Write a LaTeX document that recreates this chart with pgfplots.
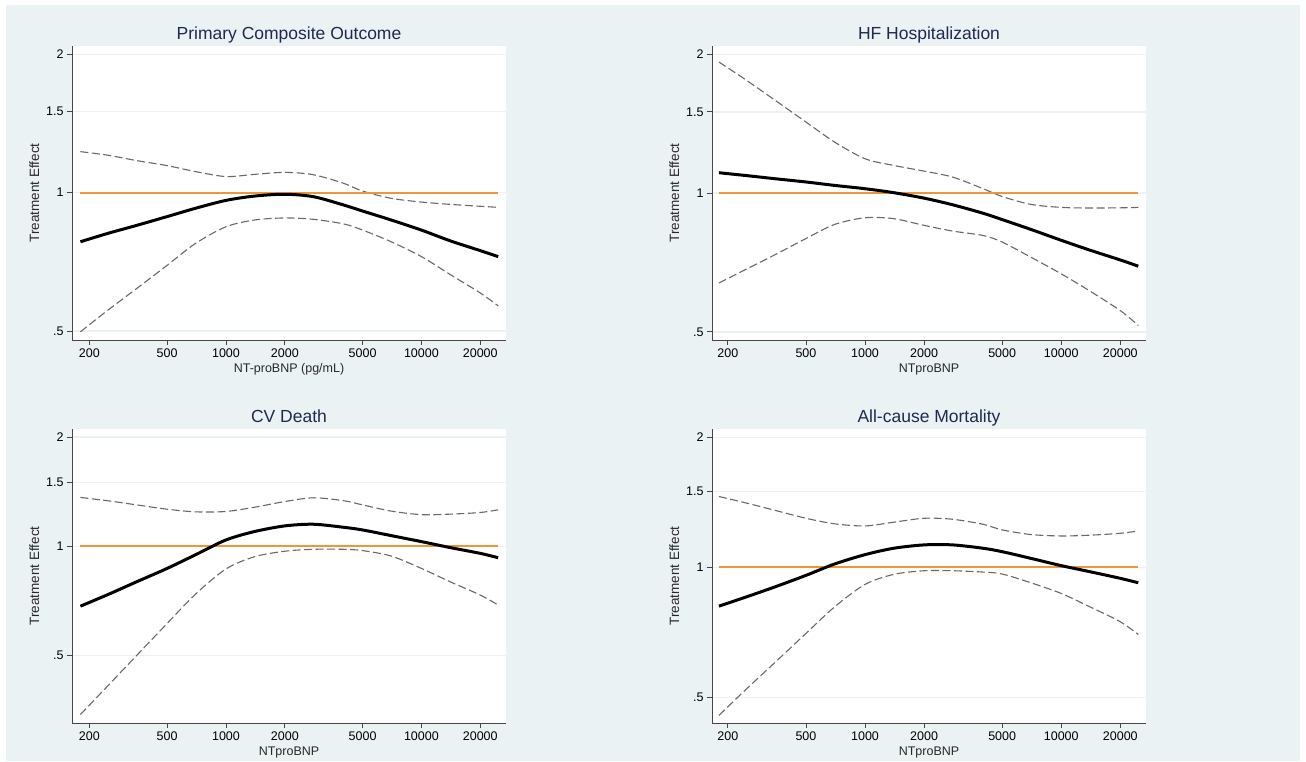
\documentclass[border=0pt]{standalone}
\usepackage{fontspec}
\setmainfont{Liberation Sans}
\usepackage{pgfplots}
\usepackage{pgfplotstable}
\pgfplotsset{compat=1.18}
\definecolor{bgcol}{RGB}{234,242,243}
\definecolor{titlecol}{RGB}{30,42,78}
\definecolor{labcol}{RGB}{40,40,40}
\definecolor{axiscol}{RGB}{70,70,70}
\definecolor{cigray}{RGB}{105,105,105}
\definecolor{refor}{RGB}{240,150,55}

\pgfplotstableread{
x est lo hi
180 0.782 0.498 1.228
250 0.816 0.556 1.206
350 0.849 0.619 1.174
500 0.887 0.695 1.145
700 0.925 0.776 1.111
1000 0.962 0.843 1.084
1400 0.983 0.872 1.096
2000 0.992 0.881 1.107
2800 0.980 0.875 1.094
4000 0.940 0.855 1.048
5000 0.912 0.829 1.008
7000 0.872 0.782 0.972
10000 0.829 0.726 0.954
14000 0.786 0.664 0.943
20000 0.748 0.605 0.934
24700 0.726 0.567 0.929
}\primary
\pgfplotstableread{
x est lo hi
180 1.107 0.638 1.925
250 1.091 0.685 1.754
350 1.074 0.736 1.587
500 1.057 0.797 1.426
700 1.039 0.855 1.290
1000 1.022 0.884 1.187
1400 1.002 0.880 1.148
2000 0.975 0.851 1.116
2800 0.943 0.827 1.083
4000 0.904 0.809 1.022
5000 0.876 0.783 0.983
7000 0.834 0.726 0.945
10000 0.790 0.668 0.931
14000 0.752 0.613 0.928
20000 0.716 0.556 0.929
24700 0.694 0.516 0.931
}\hfhosp
\pgfplotstableread{
x est lo hi
180 0.684 0.344 1.363
250 0.737 0.414 1.334
350 0.799 0.501 1.300
500 0.869 0.613 1.265
700 0.948 0.739 1.244
1000 1.041 0.866 1.247
1400 1.098 0.936 1.281
2000 1.138 0.969 1.328
2800 1.150 0.981 1.360
4000 1.128 0.981 1.335
5000 1.109 0.973 1.300
7000 1.070 0.940 1.250
10000 1.030 0.869 1.222
14000 0.992 0.799 1.226
20000 0.956 0.734 1.239
24700 0.930 0.689 1.260
}\cvdeath
\pgfplotstableread{
x est lo hi
180 0.813 0.454 1.459
250 0.855 0.524 1.408
350 0.902 0.604 1.354
500 0.958 0.703 1.299
700 1.018 0.810 1.261
1000 1.070 0.913 1.247
1400 1.107 0.963 1.272
2000 1.127 0.982 1.299
2800 1.127 0.982 1.292
4000 1.107 0.975 1.258
5000 1.087 0.965 1.221
7000 1.049 0.921 1.191
10000 1.009 0.870 1.182
14000 0.977 0.810 1.187
20000 0.943 0.748 1.199
24700 0.921 0.699 1.214
}\allcause

\pgfplotsset{
  stpanel/.style={
    scale only axis, width=434pt, height=294pt, anchor=south west,
    xtick={200,500,1000,2000,5000,10000,20000},
    xticklabels={200,500,1000,2000,5000,10000,20000},
    ytick={0.5,1,1.5,2}, yticklabels={.5,1,1.5,2},
    minor xtick={}, minor ytick={},
    axis x line*=bottom, axis y line*=left,
    axis line style={draw=axiscol, line width=0.9pt},
    tick style={draw=axiscol, line width=0.9pt},
    tick align=outside, major tick length=5pt,
    ymajorgrids,
    major grid style={draw=bgcol, line width=1.4pt},
    axis background/.style={fill=white},
    /pgf/number format/assume math mode=true,
    tick label style={font=\fontsize{12.5}{14}\selectfont, text=black},
    every axis title/.style={font=\fontsize{17.5}{20}\selectfont, text=titlecol, at={(axis description cs:0.5,1)}, anchor=base, yshift=6pt},
    every axis x label/.style={font=\fontsize{12.5}{14}\selectfont, text=labcol, at={(axis description cs:0.5,-0.1122)}, anchor=base},
    every axis y label/.style={font=\fontsize{13.5}{15}\selectfont, text=labcol, rotate=90, at={(axis description cs:-0.076,0.5)}, anchor=base},
    ylabel={Treatment Effect},
  },
  estline/.style={draw=black, line width=3pt, smooth, no markers},
  ciline/.style={draw=cigray, line width=1.1pt, dash pattern=on 8pt off 3.5pt, smooth, no markers},
  refline/.style={draw=refor, color=refor, line width=2pt, no markers},
}

\begin{document}
\begin{tikzpicture}[x=1pt,y=1pt]
\fill[white] (0,0) rectangle (1306,762);
\fill[bgcol] (5.5,1) rectangle (1299.5,757);

% Panel 1
\begin{loglogaxis}[stpanel, at={(72pt,422pt)}, xmin=163, xmax=27090, ymin=0.478, ymax=2.085,
  title={Primary Composite Outcome}, xlabel={NT-proBNP (pg/mL)}]
\addplot[ciline] table[x=x,y=hi] {\primary};
\addplot[ciline] table[x=x,y=lo] {\primary};
\addplot[refline] coordinates {(180,1) (24700,1)};
\addplot[estline] table[x=x,y=est] {\primary};
\end{loglogaxis}

% Panel 2
\begin{loglogaxis}[stpanel, at={(712pt,422pt)}, xmin=166, xmax=27050, ymin=0.48, ymax=2.085,
  title={HF Hospitalization}, xlabel={NTproBNP}]
\addplot[ciline] table[x=x,y=hi] {\hfhosp};
\addplot[ciline] table[x=x,y=lo] {\hfhosp};
\addplot[refline] coordinates {(180,1) (24700,1)};
\addplot[estline] table[x=x,y=est] {\hfhosp};
\end{loglogaxis}

% Panel 3
\begin{loglogaxis}[stpanel, at={(72pt,39pt)}, xmin=163, xmax=27090, ymin=0.326, ymax=2.104,
  title={CV Death}, xlabel={NTproBNP}]
\addplot[ciline] table[x=x,y=hi] {\cvdeath};
\addplot[ciline] table[x=x,y=lo] {\cvdeath};
\addplot[refline] coordinates {(180,1) (24700,1)};
\addplot[estline] table[x=x,y=est] {\cvdeath};
\end{loglogaxis}

% Panel 4
\begin{loglogaxis}[stpanel, at={(712pt,39pt)}, xmin=166, xmax=27050, ymin=0.436, ymax=2.091,
  title={All-cause Mortality}, xlabel={NTproBNP}]
\addplot[ciline] table[x=x,y=hi] {\allcause};
\addplot[ciline] table[x=x,y=lo] {\allcause};
\addplot[refline] coordinates {(180,1) (24700,1)};
\addplot[estline] table[x=x,y=est] {\allcause};
\end{loglogaxis}

\pgfresetboundingbox
\useasboundingbox (0,0) rectangle (1306,762);
\end{tikzpicture}
\end{document}
